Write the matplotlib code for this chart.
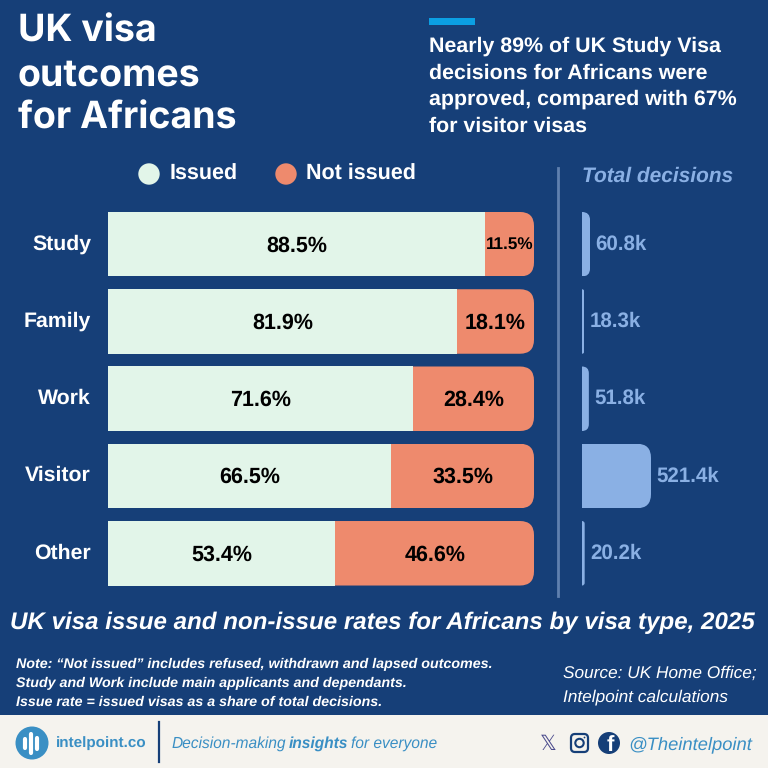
import matplotlib
matplotlib.use("Agg")
import matplotlib.pyplot as plt
from matplotlib.patches import FancyBboxPatch, Rectangle, Circle

plt.rcParams["font.family"] = ["Liberation Sans", "DejaVu Sans"]
plt.rcParams["text.hinting"] = "no_hinting"

categories = ["Study", "Family", "Work", "Visitor", "Other"]
issued = [88.5, 81.9, 71.6, 66.5, 53.4]
not_issued = [11.5, 18.1, 28.4, 33.5, 46.6]
totals = [60.8, 18.3, 51.8, 521.4, 20.2]
total_labels = ["60.8k", "18.3k", "51.8k", "521.4k", "20.2k"]

NAVY = "#163F78"
MINT = "#E2F5E9"
CORAL = "#EE8A6D"
SKY = "#8AB0E4"
CREAM = "#F5F3EE"
BLUE = "#3A8FC4"

fig = plt.figure(figsize=(7.68, 7.68), dpi=100, facecolor=NAVY)

# full figure axes in pixels, for the text and decoration
bg = fig.add_axes([0, 0, 1, 1], zorder=0)
bg.set_xlim(0, 768)
bg.set_ylim(768, 0)
bg.axis("off")


def px_axes(x0, y0, x1, y1):
    ax = fig.add_axes([x0 / 768, 1 - y1 / 768, (x1 - x0) / 768, (y1 - y0) / 768], zorder=2)
    ax.patch.set_alpha(0)
    ax.axis("off")
    return ax


def rounded_clip(bar, end, radius=14):
    # square on the left, rounded on the right; end is where the row stops in data units
    x, y = bar.get_x(), bar.get_y()
    h = bar.get_height()
    (x0, y0), (x1, y1) = bar.axes.transData.transform([(x, y), (end, y + h)])
    low, high = min(y0, y1), max(y0, y1)
    radius = min(radius, x1 - x0)
    clip = FancyBboxPatch(
        (x0 - 2 * radius, low),
        x1 - x0 + 2 * radius,
        high - low,
        boxstyle=f"round,pad=0,rounding_size={radius}",
        transform=None,
    )
    bar.set_clip_path(clip)


# stacked bars, slot height 77.25 px with bars 64.5 px
ax = px_axes(108, 205.6, 534, 591.9)
ax.set_xlim(0, 100)
ax.set_ylim(4.5, -0.5)
bars1 = ax.barh(range(5), issued, height=0.835, color=MINT)
bars2 = ax.barh(range(5), not_issued, left=issued, height=0.835, color=CORAL)
for i in range(5):
    rounded_clip(bars2[i], issued[i] + not_issued[i])
    ax.annotate(f"{issued[i]}%", (issued[i] / 2, i), xytext=(0, -1), textcoords="offset points",
                ha="center", va="center", fontsize=15.5, fontweight="bold", color="black")
    small = not_issued[i] < 15
    ax.annotate(f"{not_issued[i]}%", (issued[i] + not_issued[i] / 2, i), xytext=(0, -1),
                textcoords="offset points", ha="center", va="center",
                fontsize=12.3 if small else 15.5, fontweight="bold", color="black")
    bg.text(91, 244 + i * 77.25, categories[i], ha="right", va="center",
            fontsize=15.3, fontweight="bold", color="white")

# total decisions bars, 521.4k is about 69 px wide
ax2 = px_axes(582, 205.6, 742, 591.9)
ax2.set_xlim(0, 1209)
ax2.set_ylim(4.5, -0.5)
bars3 = ax2.barh(range(5), totals, height=0.835, color=SKY)
for i in range(5):
    rounded_clip(bars3[i], totals[i])
    ax2.annotate(total_labels[i], (totals[i], i), xytext=(4, 0), textcoords="offset points",
                 ha="left", va="center", fontsize=14.8, fontweight="bold", color=SKY)

# header
for line, base in zip(["UK visa", "outcomes", "for Africans"], [41.5, 85.5, 129]):
    bg.text(18, base, line, fontsize=27, fontweight="bold", color="white", va="baseline",
            family=["Inter", "Liberation Sans"])
bg.add_patch(Rectangle((429, 18), 46, 7, color="#0B9FE3", lw=0))
for i, line in enumerate(["Nearly 89% of UK Study Visa", "decisions for Africans were",
                          "approved, compared with 67%", "for visitor visas"]):
    bg.text(429, 46.5 + i * 26.5, line, fontsize=15.4, fontweight="bold", color="white", va="center")

# legend
bg.add_patch(Circle((149, 174), 10.7, color=MINT, lw=0))
bg.text(170, 174.5, "Issued", fontsize=15.5, fontweight="bold", color="white", va="center")
bg.add_patch(Circle((286, 174), 10.7, color=CORAL, lw=0))
bg.text(306, 174.5, "Not issued", fontsize=15.5, fontweight="bold", color="white", va="center")

bg.text(582, 176, "Total decisions", fontsize=15, fontweight="bold", style="italic",
        color=SKY, va="center")
bg.plot([557.5, 557.5], [168, 596], color="#5F80AE", lw=2)

# subtitle and notes
bg.text(10, 623, "UK visa issue and non-issue rates for Africans by visa type, 2025",
        fontsize=17.4, fontweight="bold", style="italic", color="white", va="center")
notes = ["Note: “Not issued” includes refused, withdrawn and lapsed outcomes.",
         "Study and Work include main applicants and dependants.",
         "Issue rate = issued visas as a share of total decisions."]
for i, line in enumerate(notes):
    bg.text(16, 664.5 + i * 19, line, fontsize=10.3, fontweight="bold", style="italic",
            color="white", va="center")
bg.text(563, 673, "Source: UK Home Office;", fontsize=12.45, style="italic", color="white", va="center")
bg.text(563, 697, "Intelpoint calculations", fontsize=12.45, style="italic", color="white", va="center")

# footer
bg.add_patch(Rectangle((0, 715), 768, 53, color=CREAM, lw=0))
bg.add_patch(Circle((32, 743), 16.5, color=BLUE, lw=0))
for x, top, bottom in [(25, 739, 748), (31, 734, 753), (37, 738, 749)]:
    bg.plot([x, x], [top, bottom], color="white", lw=3, solid_capstyle="round")
bg.text(56, 743, "intelpoint.co", fontsize=11, fontweight="bold", color=BLUE, va="center")
bg.plot([158.5, 158.5], [722, 762], color=NAVY, lw=1.6)
bg.text(172, 744, "Decision-making", fontsize=11.2, style="italic", color=BLUE, va="center")
bg.text(289, 744, "insights", fontsize=11.2, style="italic", fontweight="bold", color=BLUE, va="center")
bg.text(351, 744, "for everyone", fontsize=11.2, style="italic", color=BLUE, va="center")
bg.text(548, 744, "\U0001D54F", fontsize=15, color="#4A4A8C", ha="center", va="center", family="DejaVu Sans")
bg.add_patch(FancyBboxPatch((571, 734), 17, 18, boxstyle="round,pad=0,rounding_size=4",
                            fc="none", ec=NAVY, lw=1.6))
bg.add_patch(Circle((579.5, 743), 4.2, fc="none", ec=NAVY, lw=1.5))
bg.add_patch(Circle((584.5, 737.5), 0.9, color=NAVY, lw=0))
bg.add_patch(Circle((609, 743), 11, color=NAVY, lw=0))
bg.text(610, 745, "f", fontsize=16, fontweight="bold", color="white", ha="center", va="center")
bg.text(628, 745, "@Theintelpoint", fontsize=13.2, style="italic", color=BLUE, va="center")

fig.savefig("out.png", dpi=100, facecolor=NAVY)
